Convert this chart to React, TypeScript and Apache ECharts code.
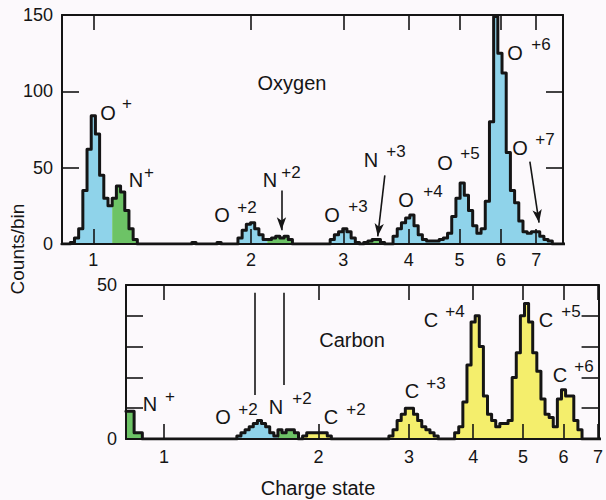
import React, { useEffect, useRef } from 'react';
import * as echarts from 'echarts';

const FONT = "'Liberation Sans', Arial, Helvetica, sans-serif";
const INK = '#151515';
const BLUE = '#8fd3ea';
const GREEN = '#6dc366';
const YELLOW = '#f4ee6c';
const BG = '#fcf9fc';

// Axis ticks (charge state, log scale)
const chargeTicks = [1, 2, 3, 4, 5, 6, 7];
const oxygenRange = [0.8714, 7.877];
const carbonRange = [0.8437, 7.018];
const oxygenYMax = 150;
const carbonYMax = 50;
const carbonYLabels = [0, 50];

// Histogram bins: constant width in log10(charge state)
const binWidthLog = 0.008;
const oxygenFirstBinLog = -0.06;
const carbonFirstBinLog = -0.074;

// Counts per bin (upper panel, oxygen scale)
const oxygenCounts = [
  0, 0, 1, 4, 10, 35, 62, 84, 72, 45,
  30, 25, 30, 38, 34, 22, 10, 3, 0, 0,
  0, 0, 0, 0, 0, 0, 0, 0, 0, 0,
  0, 1, 0, 0, 0, 0, 0, 1, 0, 0,
  0, 0, 4, 9, 13, 14, 10, 6, 3, 3,
  4, 5, 4, 5, 3, 0, 0, 0, 0, 0,
  0, 0, 0, 0, 3, 6, 8, 10, 8, 4,
  1, 0, 1, 2, 3, 3, 1, 0, 0, 5,
  10, 14, 17, 19, 12, 6, 3, 2, 2, 2,
  3, 4, 7, 18, 30, 40, 32, 22, 12, 7,
  10, 28, 80, 149, 125, 112, 60, 35, 27, 15,
  8, 7, 8, 8, 5, 3, 2, 0, 0, 0,
];
// bin ranges belonging to nitrogen (green) in the upper panel
const oxygenNitrogenBins = [[12, 17], [49, 54], [72, 76]];

// Counts per bin (lower panel, carbon scale)
const carbonCounts = [
  9, 9, 2, 2, 0, 0, 0, 0, 0, 0,
  0, 0, 0, 0, 0, 0, 0, 0, 0, 0,
  0, 0, 0, 0, 0, 0, 0, 1, 2, 3,
  4, 5, 6, 5, 4, 2, 1, 3, 2, 3,
  3, 2, 0, 1, 2, 2, 2, 2, 2, 1,
  0, 0, 0, 0, 0, 0, 0, 0, 0, 0,
  0, 0, 0, 0, 1, 3, 6, 8, 10, 10,
  8, 6, 4, 3, 2, 1, 0, 0, 0, 0,
  2, 4, 12, 24, 38, 40, 30, 14, 8, 6,
  4, 5, 5, 6, 20, 28, 40, 44, 38, 28,
  22, 13, 8, 7, 4, 13, 16, 14, 14, 6,
  3, 0, 0, 0, 0, 0,
];
const carbonNitrogenBins = [[0, 3], [37, 41]];
const carbonOxygenBins = [[27, 36]];

// Arrows / marker lines: [fromCharge, fromCount, toCharge, toCount]
const oxygenArrows = [
  [2.286, 35, 2.286, 9],
  [3.6, 45, 3.49, 5],
  [6.81, 54, 7.09, 14],
];
const carbonMarkers = [
  [1.5, 47.5, 1.5, 14.3],
  [1.714, 47.5, 1.714, 17.5],
];

// Annotation texts (main letter, superscript)
const oxygenLabels = [
  ['O', '+'], ['N', '+'], ['O', '+2'], ['N', '+2'], ['O', '+3'], ['N', '+3'],
  ['O', '+4'], ['O', '+5'], ['O', '+6'], ['O', '+7'],
];
const carbonLabels = [
  ['N', '+'], ['O', '+2'], ['N', '+2'], ['C', '+2'], ['C', '+3'],
  ['C', '+4'], ['C', '+5'], ['C', '+6'],
];
// layout (pixel centres) for the annotation texts: [mainX, mainY, supX, supY]
const oxygenLabelPos = [
  [108, 113, 127, 103], [136, 180, 149, 172], [222, 215, 247, 207], [270, 180, 291, 172],
  [332, 215, 358, 206], [371, 160, 396, 151], [406, 200, 433, 191], [445, 163, 470, 153],
  [515, 53, 541, 44], [520, 148, 545, 139],
];
const carbonLabelPos = [
  [150, 404, 170, 396], [223, 417, 248, 409], [276, 407, 302, 398], [331, 417, 356, 409],
  [412, 391, 436, 383], [431, 320, 455, 311], [546, 320, 571, 311], [560, 375, 584, 366],
];

function edge(first: number, i: number) {
  return Math.pow(10, first + i * binWidthLog);
}

function inRanges(i: number, ranges: number[][]) {
  return ranges.some(([a, b]) => i >= a && i <= b);
}

function stepPoints(first: number, counts: number[], keep: (i: number) => boolean) {
  const pts: any[] = [];
  let open = false;
  counts.forEach((c, i) => {
    if (keep(i)) {
      pts.push([edge(first, i), c], [edge(first, i + 1), c]);
      open = true;
    } else if (open) {
      pts.push([edge(first, i), '-']);
      open = false;
    }
  });
  return pts;
}

function fillSeries(data: any[], color: string, gridIdx: number) {
  return {
    type: 'line',
    xAxisIndex: gridIdx * 2,
    yAxisIndex: gridIdx * 2,
    data,
    symbol: 'none',
    connectNulls: false,
    lineStyle: { width: 0, opacity: 0 },
    areaStyle: { color, opacity: 1 },
    z: 2,
    silent: true,
  };
}

function outlineSeries(data: any[], gridIdx: number, lines: number[][], arrow: boolean) {
  return {
    type: 'line',
    xAxisIndex: gridIdx * 2,
    yAxisIndex: gridIdx * 2,
    data,
    symbol: 'none',
    lineStyle: { color: INK, width: 3, join: 'round', cap: 'round' },
    z: 3,
    silent: true,
    markLine: {
      silent: true,
      symbol: arrow ? ['none', 'arrow'] : ['none', 'none'],
      symbolSize: [7, 13],
      label: { show: false },
      lineStyle: { color: INK, width: 1.6, type: 'solid' },
      itemStyle: { color: INK },
      data: lines.map(([x1, y1, x2, y2]) => [{ coord: [x1, y1] }, { coord: [x2, y2] }]),
    },
  };
}

function xAxes(gridIdx: number, range: number[], labelMargin: number) {
  const base = {
    type: 'log',
    logBase: 10,
    gridIndex: gridIdx,
    min: range[0],
    max: range[1],
    z: 5,
    splitLine: { show: false },
    minorTick: { show: false },
    minorSplitLine: { show: false },
    axisLine: { show: true, onZero: false, lineStyle: { color: INK, width: 2 } },
  };
  return [
    {
      ...base,
      position: 'bottom',
      axisTick: { show: true, inside: true, length: 15, customValues: chargeTicks, lineStyle: { color: INK, width: 1.6 } },
      axisLabel: {
        show: true, customValues: chargeTicks, margin: labelMargin, fontSize: 18,
        fontFamily: FONT, color: INK, formatter: (v: number) => String(Math.round(v)),
      },
    },
    {
      ...base,
      position: 'top',
      axisTick: { show: true, inside: true, length: 15, customValues: chargeTicks, lineStyle: { color: INK, width: 1.6 } },
      axisLabel: { show: false },
    },
  ];
}

function yAxes(gridIdx: number, max: number, interval: number, labelFn: (v: number) => string) {
  const base = {
    type: 'value',
    gridIndex: gridIdx,
    min: 0,
    max,
    interval,
    z: 5,
    splitLine: { show: false },
    axisLine: { show: true, lineStyle: { color: INK, width: 2 } },
    axisTick: { show: true, inside: true, length: 17, lineStyle: { color: INK, width: 1.6 } },
  };
  return [
    {
      ...base,
      position: 'left',
      axisLabel: { show: true, margin: 9, fontSize: 18, fontFamily: FONT, color: INK, formatter: labelFn },
    },
    { ...base, position: 'right', axisLabel: { show: false } },
  ];
}

function textEl(text: string, x: number, y: number, size: number, rotation = 0) {
  return {
    type: 'text',
    x,
    y,
    rotation,
    silent: true,
    z: 10,
    style: {
      text,
      fontSize: size,
      fontFamily: FONT,
      fill: INK,
      align: 'center',
      verticalAlign: 'middle',
      textAlign: 'center',
      textVerticalAlign: 'middle',
    },
  };
}

function annotations(labels: string[][], pos: number[][]) {
  const out: any[] = [];
  labels.forEach(([m, s], i) => {
    const [mx, my, sx, sy] = pos[i];
    out.push(textEl(m, mx, my, 20));
    out.push(textEl(s, sx, sy, 17));
  });
  return out;
}

export default function App() {
  const ref = useRef<HTMLDivElement>(null);

  useEffect(() => {
    if (!ref.current) return;
    const chart = echarts.init(ref.current, undefined, { renderer: 'svg' });

    const oBlue = stepPoints(oxygenFirstBinLog, oxygenCounts, (i) => !inRanges(i, oxygenNitrogenBins));
    const oGreen = stepPoints(oxygenFirstBinLog, oxygenCounts, (i) => inRanges(i, oxygenNitrogenBins));
    const oOutline = stepPoints(oxygenFirstBinLog, oxygenCounts, () => true);

    const cGreen = stepPoints(carbonFirstBinLog, carbonCounts, (i) => inRanges(i, carbonNitrogenBins));
    const cBlue = stepPoints(carbonFirstBinLog, carbonCounts, (i) => inRanges(i, carbonOxygenBins));
    const cYellow = stepPoints(
      carbonFirstBinLog,
      carbonCounts,
      (i) => !inRanges(i, carbonNitrogenBins) && !inRanges(i, carbonOxygenBins)
    );
    const cOutline = stepPoints(carbonFirstBinLog, carbonCounts, () => true);

    chart.setOption({
      animation: false,
      backgroundColor: BG,
      grid: [
        { left: 62, top: 15, width: 501, height: 229 },
        { left: 126, top: 285, width: 474, height: 154 },
      ],
      xAxis: [...xAxes(0, oxygenRange, 7), ...xAxes(1, carbonRange, 9)],
      yAxis: [
        ...yAxes(0, oxygenYMax, 50, (v: number) => String(v)),
        ...yAxes(1, carbonYMax, 10, (v: number) => (carbonYLabels.includes(v) ? String(v) : '')),
      ],
      series: [
        fillSeries(oBlue, BLUE, 0),
        fillSeries(oGreen, GREEN, 0),
        outlineSeries(oOutline, 0, oxygenArrows, true),
        fillSeries(cGreen, GREEN, 1),
        fillSeries(cBlue, BLUE, 1),
        fillSeries(cYellow, YELLOW, 1),
        outlineSeries(cOutline, 1, carbonMarkers, false),
      ],
      graphic: [
        textEl('Oxygen', 292, 83, 20),
        textEl('Carbon', 352, 340, 20),
        textEl('Counts/bin', 17, 249, 19, Math.PI / 2),
        textEl('Charge state', 318, 488, 20),
        ...annotations(oxygenLabels, oxygenLabelPos),
        ...annotations(carbonLabels, carbonLabelPos),
      ],
    });

    return () => chart.dispose();
  }, []);

  return (
    <div
      ref={ref}
      style={{ position: 'absolute', left: 0, top: 0, width: 606, height: 500, background: BG }}
    />
  );
}
